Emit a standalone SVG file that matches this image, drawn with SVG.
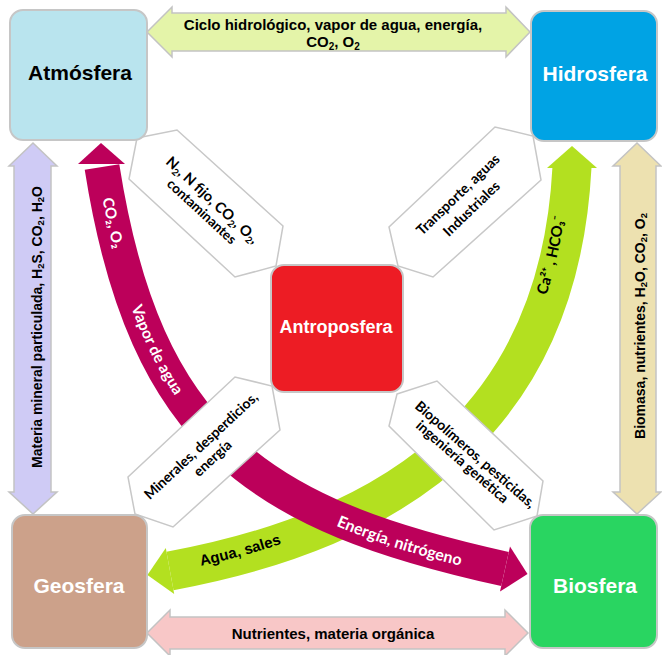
<svg xmlns="http://www.w3.org/2000/svg" width="662" height="655" viewBox="0 0 662 655">
<style>
.box{stroke:#c6c6c6;stroke-width:2}
.lbl{font-family:"Liberation Sans",Arial,sans-serif;font-weight:bold;text-anchor:middle}
.cal{font-family:Lato,"DejaVu Sans","Liberation Sans",sans-serif;font-weight:bold;text-anchor:middle}
.dbl{stroke:#c3c3c3;stroke-width:1.5;stroke-linejoin:miter}
.diag{fill:#fff;stroke:#c8c8c8;stroke-width:1.5;stroke-linejoin:miter}
</style>
<defs>
<path id="mPath" d="M102,166 C145,440 260,515 505,569"/>
<path id="gPathR" d="M170,571 C420,525 560,400 572,168"/>
</defs>
<rect width="662" height="655" fill="#fff"/>
<g id="connectors">
  <g id="c-atm-hid">
    <polygon class="dbl" fill="#e4f4a9" points="147,32 172,7 172,13 506,13 506,7 530,32 506,57 506,51 172,51 172,57"/>
    <text class="lbl" font-size="15" x="333" y="30">Ciclo hidrológico, vapor de agua, energía,</text>
    <text class="lbl" font-size="15" x="333" y="47">CO<tspan font-size="10" dy="3">2</tspan><tspan dy="-3">, O</tspan><tspan font-size="10" dy="3">2</tspan></text>
  </g>
  <g id="c-geo-bio">
    <polygon class="dbl" fill="#f8c7c7" points="147,633 170,610 170,617 505,617 505,610 528,633 505,656 505,649 170,649 170,656"/>
    <text class="lbl" font-size="15" x="333" y="639">Nutrientes, materia orgánica</text>
  </g>
  <g id="c-atm-geo">
    <polygon class="dbl" fill="#cfcbf5" points="33,143 57,166 51,166 51,492 57,492 33,514 9,492 14,492 14,166 9,166"/>
    <text class="lbl" font-size="14" transform="translate(42,327) rotate(-90)">Materia mineral particulada, H<tspan font-size="9.5" dy="2">2</tspan><tspan dy="-2">S, CO</tspan><tspan font-size="9.5" dy="2">2</tspan><tspan dy="-2">, H</tspan><tspan font-size="9.5" dy="2">2</tspan><tspan dy="-2">O</tspan></text>
  </g>
  <g id="c-hid-bio">
    <polygon class="dbl" fill="#ede1b0" points="637,143 661,166 656,166 656,492 661,492 637,514 613,492 620,492 620,166 613,166"/>
    <text class="lbl" font-size="14" transform="translate(645,326) rotate(-90)">Biomasa, nutrientes,  H<tspan font-size="9.5" dy="2">2</tspan><tspan dy="-2">O, CO</tspan><tspan font-size="9.5" dy="2">2</tspan><tspan dy="-2">, O</tspan><tspan font-size="9.5" dy="2">2</tspan></text>
  </g>
  <g id="c-hid-geo">
    <path d="M572,167 C560,400 420,525 170,571" fill="none" stroke="#b3e020" stroke-width="39"/>
    <polygon fill="#b3e020" points="572,146 597,168 547,168"/>
    <polygon fill="#b3e020" points="147.4,575 165.8,548 174.2,594"/>
    <text class="lbl" font-size="15" fill="#000"><textPath href="#gPathR" startOffset="11.7%"><tspan dy="1">Agua, sales</tspan></textPath></text>
    <text class="cal" font-size="15" fill="#000"><textPath href="#gPathR" startOffset="85.6%"><tspan dy="-3">Ca²⁺ , HCO₃⁻</tspan></textPath></text>
  </g>
  <g id="c-atm-bio">
    <path d="M102,167 C145,440 260,515 505,569" fill="none" stroke="#bc005a" stroke-width="35"/>
    <polygon fill="#bc005a" points="101,143 125,164 78,164"/>
    <polygon fill="#bc005a" points="527.5,574 510,546.5 500,591.5"/>
    <text class="cal" font-size="15" fill="#fff"><textPath href="#mPath" startOffset="9.3%"><tspan dy="5">CO₂, O₂</tspan></textPath></text>
    <text class="cal" font-size="15.5" fill="#fff"><textPath href="#mPath" startOffset="31%"><tspan dy="5">Vapor de agua</tspan></textPath></text>
    <text class="cal" font-size="16" fill="#fff"><textPath href="#mPath" startOffset="82.5%"><tspan dy="7">Energía, nitrógeno</tspan></textPath></text>
  </g>
  <g id="c-atm-ant">
    <polygon class="diag" points="137,138 177,130 283,226 276,266 235,277 129,179"/>
    <g transform="translate(206.5,202) rotate(42.7)">
      <text class="cal" font-size="14.5" x="3" y="-0.5">N<tspan font-size="9.5" dy="3">2</tspan><tspan dy="-3">, N fijo, CO</tspan><tspan font-size="9.5" dy="3">2</tspan><tspan dy="-3">, O</tspan><tspan font-size="9.5" dy="3">2</tspan><tspan dy="-3">,</tspan></text>
      <text class="cal" font-size="13.5" x="3" y="15">contaminantes</text>
    </g>
  </g>
  <g id="c-hid-ant">
    <polygon class="diag" points="533,136 541,180 433,277 398,266 389,227 495,127"/>
    <g transform="translate(465.5,201) rotate(-43.9)">
      <text class="cal" font-size="14" x="-1" y="-5">Transporte, aguas</text>
      <text class="cal" font-size="14" x="-1" y="14.5">Industriales</text>
    </g>
  </g>
  <g id="c-ant-geo">
    <polygon class="diag" points="272,386 280,430 173,527 135,514 128,477 235,377"/>
    <g transform="translate(203.5,450) rotate(-43.05)">
      <text class="cal" font-size="14" x="1" y="0">Minerales, desperdicios,</text>
      <text class="cal" font-size="14" x="1" y="17">energía</text>
    </g>
  </g>
  <g id="c-ant-bio">
    <polygon class="diag" points="397,394 437,381 543,481 537,516 494,530 389,426"/>
    <g transform="translate(467,455) rotate(41.1)">
      <text class="cal" font-size="14" x="6" y="-1">Biopolímeros, pesticidas,</text>
      <text class="cal" font-size="14" x="1" y="13">ingeniería genética</text>
    </g>
  </g>
</g>
<g id="atmosfera">
  <rect class="box" x="10" y="10" width="137" height="130" rx="13" fill="#b9e4ee"/>
  <text class="lbl" font-size="21" x="80" y="80" fill="#000">Atmósfera</text>
</g>
<g id="hidrosfera">
  <rect class="box" x="531" y="11" width="126" height="130" rx="13" fill="#00a3e4"/>
  <text class="lbl" font-size="21" x="595" y="81" fill="#fff">Hidrosfera</text>
</g>
<g id="antroposfera">
  <rect class="box" x="271" y="265" width="132" height="127" rx="13" fill="#ed1c24"/>
  <text class="lbl" font-size="18" x="336" y="333" fill="#fff">Antroposfera</text>
</g>
<g id="geosfera">
  <rect class="box" x="12" y="515" width="135" height="133" rx="13" fill="#cca18a"/>
  <text class="lbl" font-size="21" x="79" y="593" fill="#fff">Geosfera</text>
</g>
<g id="biosfera">
  <rect class="box" x="530" y="515" width="127" height="133" rx="13" fill="#29d561"/>
  <text class="lbl" font-size="21" x="595" y="593" fill="#fff">Biosfera</text>
</g>
</svg>
